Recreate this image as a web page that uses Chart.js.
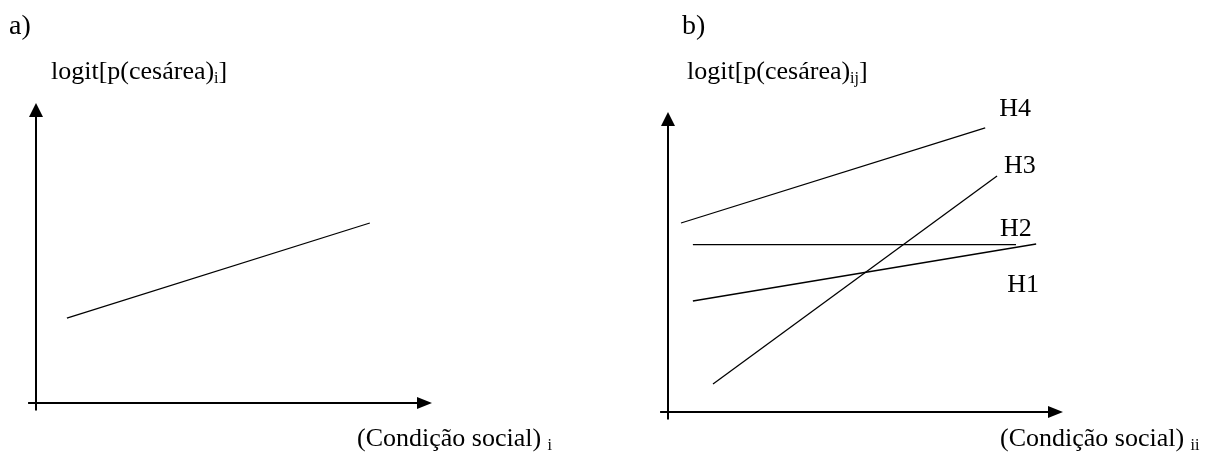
<!DOCTYPE html>
<html>
<head>
<meta charset="utf-8">
<script src="https://cdn.jsdelivr.net/npm/chart.js@4"></script>
<style>
body { margin: 0; background: #fff; }
#wrap { position: relative; width: 1212px; height: 454px; }
#wrap canvas { position: absolute; top: 0; }
</style>
</head>
<body>
<div id="wrap">
<canvas id="chartA" width="606" height="454" style="left:0"></canvas>
<canvas id="chartB" width="606" height="454" style="left:606px"></canvas>
</div>
<script>
//<---------- a) one line: logit vs social condition ---------->
const xA = [0.78, 8.43];
const yA = [2.83, 6.0];

//<---------- b) four hypotheses H1..H4 (start / end points) ---------->
const seriesB = ['H1', 'H2', 'H3', 'H4'];
const xStartB = [0.63, 0.63, 1.14, 0.33];
const yStartB = [3.7, 5.58, 0.93, 6.3];
const xEndB = [9.32, 8.81, 8.33, 8.03];
const yEndB = [5.6, 5.58, 7.87, 9.47];

const FONT = "'Liberation Serif', 'Times New Roman', serif";

// text with a small lowered part, e.g. logit[p(cesárea)_i]
function drawSub(ctx, x, y, size, main, sub, tail) {
  ctx.font = size + 'px ' + FONT;
  ctx.fillText(main, x, y);
  x += ctx.measureText(main).width;
  ctx.font = Math.round(size * 0.62) + 'px ' + FONT;
  ctx.fillText(sub, x, y + 4);
  x += ctx.measureText(sub).width;
  if (tail) {
    ctx.font = size + 'px ' + FONT;
    ctx.fillText(tail, x, y);
  }
}

// axes with arrow heads, drawn from the scales
const axesArrows = {
  id: 'axesArrows',
  afterDatasetsDraw(chart) {
    const ctx = chart.ctx;
    const sx = chart.scales.x, sy = chart.scales.y;
    const x0 = sx.getPixelForValue(0), y0 = sy.getPixelForValue(0);
    const xTip = sx.getPixelForValue(sx.max), yTip = sy.getPixelForValue(sy.max);
    ctx.save();
    ctx.strokeStyle = '#000';
    ctx.fillStyle = '#000';
    ctx.lineWidth = 2;
    ctx.beginPath();
    ctx.moveTo(x0, sy.getPixelForValue(-0.25));
    ctx.lineTo(x0, yTip + 10);
    ctx.moveTo(sx.getPixelForValue(-0.2), y0);
    ctx.lineTo(xTip - 10, y0);
    ctx.stroke();
    ctx.beginPath();
    ctx.moveTo(x0, yTip);
    ctx.lineTo(x0 - 7, yTip + 14);
    ctx.lineTo(x0 + 7, yTip + 14);
    ctx.closePath();
    ctx.fill();
    ctx.beginPath();
    ctx.moveTo(xTip, y0);
    ctx.lineTo(xTip - 15, y0 - 6);
    ctx.lineTo(xTip - 15, y0 + 6);
    ctx.closePath();
    ctx.fill();
    ctx.restore();
  }
};

// panel letter, axis titles and line names
const panelText = {
  id: 'panelText',
  afterDraw(chart, args, opts) {
    const ctx = chart.ctx;
    ctx.save();
    ctx.fillStyle = '#000';
    ctx.textBaseline = 'alphabetic';
    ctx.font = '28px ' + FONT;
    ctx.fillText(opts.letter, opts.letterX, 34);
    drawSub(ctx, opts.yTitleX, 79, 26, 'logit[p(cesárea)', opts.ySub, ']');
    drawSub(ctx, opts.xTitleX, 446, 26, '(Condição social) ', opts.xSub, '');
    if (opts.names) {
      ctx.font = '26px ' + FONT;
      chart.data.datasets.forEach((ds, i) => {
        const end = chart.getDatasetMeta(i).data[1];
        const off = opts.names[i];
        ctx.fillText(ds.label, end.x + off[0], end.y + off[1]);
      });
    }
    ctx.restore();
  }
};

function baseOptions(padding, text) {
  return {
    responsive: false,
    animation: false,
    layout: { padding: padding },
    scales: {
      x: { type: 'linear', min: 0, max: 10, display: false },
      y: { type: 'linear', min: 0, max: 10, display: false }
    },
    elements: { point: { radius: 0 }, line: { borderWidth: 1.3 } },
    plugins: {
      legend: { display: false },
      tooltip: { enabled: false },
      panelText: text
    }
  };
}

new Chart(document.getElementById('chartA'), {
  type: 'scatter',
  data: {
    datasets: [{
      label: 'a',
      data: [{ x: xA[0], y: yA[0] }, { x: xA[1], y: yA[1] }],
      showLine: true,
      borderColor: '#000'
    }]
  },
  options: baseOptions({ left: 36, right: 174, top: 103, bottom: 51 },
    { letter: 'a)', letterX: 9, yTitleX: 51, ySub: 'i', xTitleX: 357, xSub: 'i' }),
  plugins: [axesArrows, panelText]
});

new Chart(document.getElementById('chartB'), {
  type: 'scatter',
  data: {
    datasets: seriesB.map((name, i) => ({
      label: name,
      data: [{ x: xStartB[i], y: yStartB[i] }, { x: xEndB[i], y: yEndB[i] }],
      showLine: true,
      borderColor: '#000'
    }))
  },
  options: baseOptions({ left: 62, right: 149, top: 112, bottom: 42 },
    { letter: 'b)', letterX: 76, yTitleX: 81, ySub: 'ij', xTitleX: 394, xSub: 'ii',
      names: [[-29, 48], [-16, -9], [7, -3], [14, -12]] }),
  plugins: [axesArrows, panelText]
});
</script>
</body>
</html>
